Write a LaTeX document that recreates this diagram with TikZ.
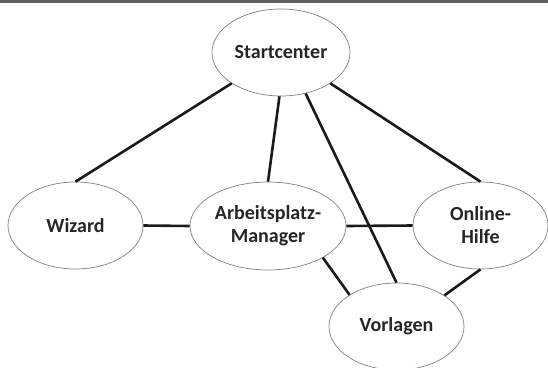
\documentclass[tikz,border=0pt]{standalone}
\usepackage{fontspec}
\setmainfont{Carlito}
\usetikzlibrary{shapes.geometric}
\definecolor{barcol}{HTML}{5F5F5F}
\definecolor{txtcol}{HTML}{262626}
\definecolor{linecol}{HTML}{1A1A1A}
\tikzset{
  bubble/.style={ellipse, draw=black!50, line width=0.7pt, fill=white, inner sep=0pt,
    font=\fontsize{20}{23}\selectfont\bfseries, text=txtcol, align=center},
  link/.style={draw=linecol, line width=2.6pt}
}
\begin{document}
\begin{tikzpicture}[x=1pt,y=-1pt]
\useasboundingbox (0,0) rectangle (548,367);
\fill[barcol] (0,0) rectangle (548,3);
\node[bubble, minimum width=138pt, minimum height=87pt] (s) at (281,52.5) {Startcenter};
\node[bubble, minimum width=135pt, minimum height=87pt] (w) at (75.5,225.5) {Wizard};
\node[bubble, minimum width=156pt, minimum height=88pt] (a) at (268,226) {Arbeitsplatz-\\Manager};
\node[bubble, minimum width=135pt, minimum height=87pt] (o) at (480.5,225.5) {Online-\\Hilfe};
\node[bubble, minimum width=135pt, minimum height=87pt] (v) at (396.5,326.5) {Vorlagen};
\draw[link] (s.212.5) -- (w.90);
\draw[link] (s.268.7) -- (a.90);
\draw[link] (s.301) -- (v.90);
\draw[link] (s.328) -- (o.90);
\draw[link] (w.0) -- (a.180);
\draw[link] (a.0) -- (o.180);
\draw[link] (a.330.6) -- (v.146.4);
\draw[link] (o.270) -- (v.33.8);
\end{tikzpicture}
\end{document}
